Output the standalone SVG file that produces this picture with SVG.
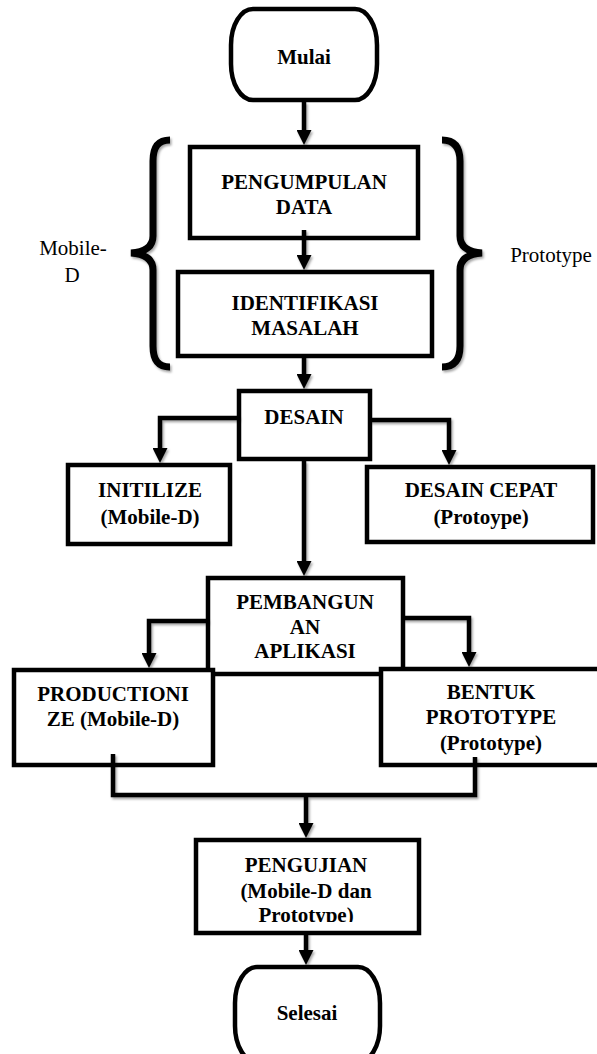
<svg xmlns="http://www.w3.org/2000/svg" width="597" height="1054" viewBox="0 0 597 1054">
<style>
.box{fill:#fff;stroke:#000;stroke-width:4.5}
.t{font-family:"Liberation Serif","Times New Roman",serif;font-size:21px;font-weight:bold;fill:#000;text-anchor:middle}
.r{font-family:"Liberation Serif","Times New Roman",serif;font-size:21px;fill:#000;text-anchor:middle}
.c{fill:none;stroke:#000;stroke-width:4.5}
.ca{fill:none;stroke:#000;stroke-width:4.5;marker-end:url(#ah)}
.br{fill:none;stroke:#000;stroke-width:7}
</style>
<defs>
<marker id="ah" markerUnits="userSpaceOnUse" markerWidth="16" markerHeight="15" refX="7" refY="7.5" orient="auto">
<path d="M0,0 L15,7.5 L0,15 Z" fill="#000"/>
</marker>
<filter id="sh" x="-10%" y="-10%" width="130%" height="130%">
<feDropShadow dx="1.5" dy="2" stdDeviation="0.8" flood-color="#000" flood-opacity="0.35"/>
</filter>
<clipPath id="clipUji"><rect x="196" y="840" width="223" height="82"/></clipPath>
</defs>
<rect width="597" height="1054" fill="#fff"/>

<g id="brace-left" filter="url(#sh)">
<path class="br" d="M170,140 C158,140 153,147 153,161 L153,236 C153,247 145,252 131,253 C145,254 153,259 153,270 L153,346 C153,360 158,367 170,367"/>
</g>
<g id="brace-right" filter="url(#sh)">
<path class="br" d="M442,140 C454,140 460,147 460,161 L460,236 C460,247 468,252 482,253 C468,254 460,259 460,270 L460,346 C460,360 454,367 442,367"/>
</g>
<g id="label-mobiled">
<text class="r" x="73" y="255">Mobile-</text>
<text class="r" x="72" y="282">D</text>
</g>
<g id="label-prototype">
<text class="r" x="551" y="262">Prototype</text>
</g>

<g id="mulai">
<rect class="box" x="231" y="9" width="146" height="91" rx="22" ry="36"/>
<text class="t" x="304" y="64">Mulai</text>
</g>
<g id="pengumpulan">
<rect class="box" x="190" y="147" width="228" height="91"/>
<text class="t" x="304" y="189">PENGUMPULAN</text>
<text class="t" x="304" y="214">DATA</text>
</g>
<g id="identifikasi">
<rect class="box" x="178" y="272" width="254" height="84"/>
<text class="t" x="305" y="310">IDENTIFIKASI</text>
<text class="t" x="305" y="335">MASALAH</text>
</g>
<g id="desain">
<rect class="box" x="239" y="391" width="131" height="68"/>
<text class="t" x="304" y="424">DESAIN</text>
</g>
<g id="initilize">
<rect class="box" x="68" y="465" width="162" height="79"/>
<text class="t" x="150" y="497">INITILIZE</text>
<text class="t" x="150" y="524">(Mobile-D)</text>
</g>
<g id="desain-cepat">
<rect class="box" x="367" y="467" width="226" height="75"/>
<text class="t" x="481" y="497">DESAIN CEPAT</text>
<text class="t" x="481" y="524">(Protoype)</text>
</g>
<g id="pembangunan">
<rect class="box" x="208" y="578" width="195" height="96"/>
<text class="t" x="305" y="609">PEMBANGUN</text>
<text class="t" x="305" y="634">AN</text>
<text class="t" x="305" y="658">APLIKASI</text>
</g>
<g id="productionize">
<rect class="box" x="14" y="670" width="199" height="95"/>
<text class="t" x="113" y="701">PRODUCTIONI</text>
<text class="t" x="113" y="726">ZE (Mobile-D)</text>
</g>
<g id="bentuk">
<rect class="box" x="381" y="669" width="230" height="96"/>
<text class="t" x="491" y="699">BENTUK</text>
<text class="t" x="491" y="724">PROTOTYPE</text>
<text class="t" x="491" y="750">(Prototype)</text>
</g>
<g id="pengujian">
<rect class="box" x="196" y="840" width="223" height="93"/>
<g clip-path="url(#clipUji)">
<text class="t" x="306" y="872">PENGUJIAN</text>
<text class="t" x="306" y="898">(Mobile-D dan</text>
<text class="t" x="306" y="922">Prototype)</text>
</g>
</g>
<g id="selesai">
<rect class="box" x="235" y="967" width="145" height="95" rx="22" ry="36"/>
<text class="t" x="307" y="1020">Selesai</text>
</g>

<g id="connectors" filter="url(#sh)">
<path class="ca" d="M304,102 L304,137"/>
<path class="ca" d="M304,230 L304,262"/>
<path class="ca" d="M304,356 L304,381"/>
<path class="ca" d="M239,418 L160,418 L160,455"/>
<path class="ca" d="M370,420 L449,420 L449,457"/>
<path class="ca" d="M304,461 L304,568"/>
<path class="ca" d="M208,621 L149,621 L149,660"/>
<path class="ca" d="M403,618 L469,618 L469,659"/>
<path class="c" d="M113,754 L113,795 L475,795 L475,757"/>
<path class="ca" d="M306,795 L306,830"/>
<path class="ca" d="M306,933 L306,957"/>
</g>
</svg>
